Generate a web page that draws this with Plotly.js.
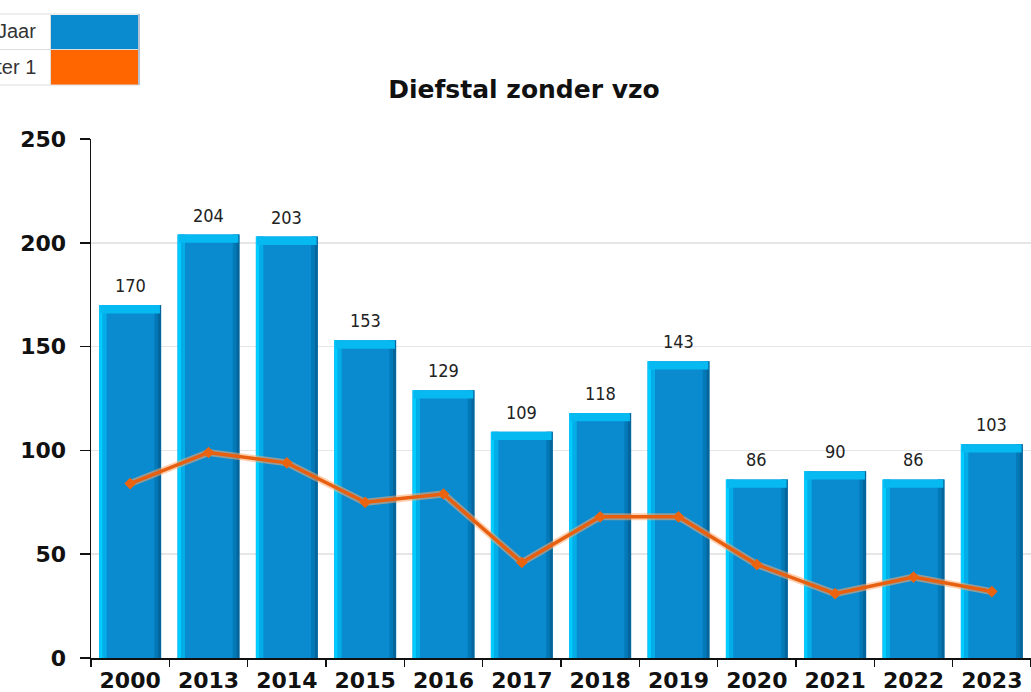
<!DOCTYPE html>
<html>
<head>
<meta charset="utf-8">
<script src="https://cdn.plot.ly/plotly-3.0.1.min.js"></script>
<style>html,body{margin:0;padding:0;background:#fff;}#chart{width:1031px;height:692px;}</style>
</head>
<body>
<div id="chart"></div>
<script>
const categories = ['2000','2013','2014','2015','2016','2017','2018','2019','2020','2021','2022','2023'];
const jaarValues = [170,204,203,153,129,109,118,143,86,90,86,103];
const semesterValues = [84,99,94,75,79,46,68,68,45,31,39,32];
const seriesNames = ['Jaar','Semester 1'];
const chartTitle = 'Diefstal zonder vzo';

const W = 1031, H = 692, L = 91, R = 0, T = 139, B = 34;
const pw = W - L - R, ph = H - T - B;
const px = v => (v - L) / pw;
const py = v => (H - B - v) / ph;

const barW = 0.79;
const half = barW / 2;
const n = categories.length;
const fill = (v) => categories.map(() => v);

const traces = [
  {type:'bar', x:categories, y:jaarValues, width:fill(barW), offset:fill(-half),
   marker:{color:'#0a8bd0', line:{width:0}}, name:seriesNames[0], showlegend:false, hoverinfo:'y'},
  {type:'bar', x:categories, y:jaarValues, width:fill(0.045), offset:fill(-half),
   marker:{color:'#00ccff', line:{width:0}}, showlegend:false, hoverinfo:'skip'},
  {type:'bar', x:categories, y:jaarValues, width:fill(0.05), offset:fill(-half+0.045),
   marker:{color:'#03aee8', line:{width:0}}, showlegend:false, hoverinfo:'skip'},
  {type:'bar', x:categories, y:jaarValues, width:fill(0.045), offset:fill(half-0.085),
   marker:{color:'#0479b8', line:{width:0}}, showlegend:false, hoverinfo:'skip'},
  {type:'bar', x:categories, y:jaarValues, width:fill(0.04), offset:fill(half-0.04),
   marker:{color:'#06659a', line:{width:0}}, showlegend:false, hoverinfo:'skip'},
  {type:'bar', x:categories, y:fill(4), base:jaarValues.map(v => v - 4), width:fill(barW - 0.03), offset:fill(-half + 0.015),
   marker:{color:'#06b9f0', line:{width:0}}, showlegend:false, hoverinfo:'skip'},
  {type:'scatter', mode:'lines', x:categories, y:semesterValues,
   line:{color:'rgba(255,170,110,0.55)', width:7}, showlegend:false, hoverinfo:'skip'},
  {type:'scatter', mode:'lines+markers', x:categories, y:semesterValues, name:seriesNames[1],
   line:{color:'#e8600f', width:3.5}, marker:{symbol:'diamond', size:9, color:'#ea6410'}, showlegend:false}
];

const annotations = categories.map((c, i) => ({
  x:i, y:jaarValues[i], xref:'x', yref:'y', text:String(jaarValues[i]), showarrow:false,
  yanchor:'bottom', yshift:7, font:{family:'DejaVu Sans Condensed, DejaVu Sans', size:18, color:'#222'}
}));

// legend (table-like, partly cut at the left edge, as in the reference)
annotations.push({xref:'paper', yref:'paper', x:px(38), y:py(31), xanchor:'right', yanchor:'middle',
  text:seriesNames[0], showarrow:false, font:{family:'Liberation Sans, Arial', size:20, color:'#333'}});
annotations.push({xref:'paper', yref:'paper', x:px(38), y:py(67), xanchor:'right', yanchor:'middle',
  text:seriesNames[1], showarrow:false, font:{family:'Liberation Sans, Arial', size:20, color:'#333'}});

const shapes = [
  {type:'rect', xref:'paper', yref:'paper', x0:px(51), x1:px(138), y0:py(49), y1:py(15), fillcolor:'#0a8bd0', line:{width:0}, layer:'above'},
  {type:'rect', xref:'paper', yref:'paper', x0:px(51), x1:px(138), y0:py(85), y1:py(50), fillcolor:'#ff6600', line:{width:0}, layer:'above'},
  {type:'line', xref:'paper', yref:'paper', x0:px(-5), x1:px(139), y0:py(14), y1:py(14), line:{color:'#dddddd', width:1}},
  {type:'line', xref:'paper', yref:'paper', x0:px(-5), x1:px(139), y0:py(49.5), y1:py(49.5), line:{color:'#dddddd', width:1}},
  {type:'line', xref:'paper', yref:'paper', x0:px(-5), x1:px(139), y0:py(85), y1:py(85), line:{color:'#dddddd', width:1}},
  {type:'line', xref:'paper', yref:'paper', x0:px(50.5), x1:px(50.5), y0:py(14), y1:py(85), line:{color:'#dddddd', width:1}},
  {type:'line', xref:'paper', yref:'paper', x0:px(139), x1:px(139), y0:py(14), y1:py(85), line:{color:'#6b87a8', width:1}}
];

const layout = {
  width:W, height:H,
  margin:{l:L, r:R, t:T, b:B, pad:0},
  paper_bgcolor:'#ffffff', plot_bgcolor:'#ffffff',
  barmode:'overlay',
  showlegend:false,
  title:{text:chartTitle, x:px(524), xref:'paper', xanchor:'center', y:1 - 89/H, yref:'container', yanchor:'middle',
    font:{family:'DejaVu Sans', size:25, color:'#111', weight:'bold'}},
  xaxis:{type:'category', range:[-0.5, n - 0.5], showline:true, linecolor:'#111', linewidth:1.5,
    ticks:'outside', tickson:'boundaries', ticklen:7, tickwidth:1.5, tickcolor:'#111', ticklabelstandoff:2,
    tickfont:{family:'DejaVu Sans', size:22, color:'#111', weight:'bold'}, showgrid:false, zeroline:false, fixedrange:true},
  yaxis:{range:[0,250], dtick:50, showline:true, linecolor:'#111', linewidth:1.5,
    ticks:'outside', ticklen:10, tickwidth:1.5, tickcolor:'#111', ticklabelstandoff:9,
    tickfont:{family:'DejaVu Sans', size:22, color:'#111', weight:'bold'},
    showgrid:true, gridcolor:'#e6e6e6', gridwidth:1.5, zeroline:false, fixedrange:true},
  annotations:annotations,
  shapes:shapes
};

Plotly.newPlot('chart', traces, layout, {displayModeBar:false, staticPlot:true});
</script>
</body>
</html>
